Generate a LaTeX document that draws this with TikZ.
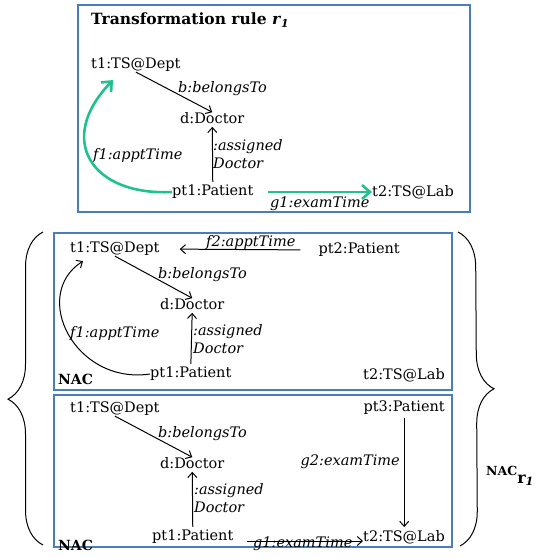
\documentclass[tikz,border=0pt]{standalone}
\usepackage{fontspec}
\setmainfont{DejaVu Serif}
\usetikzlibrary{arrows.meta,decorations.pathreplacing}
\definecolor{boxblue}{RGB}{74,126,187}
\definecolor{rulegreen}{RGB}{32,192,143}

\begin{document}
\begin{tikzpicture}[x=1pt,y=-1pt,
    obj/.style={inner sep=0pt,anchor=west,font=\fontsize{14.5}{16}\selectfont},
    lab/.style={inner sep=0pt,anchor=west,align=left,font=\fontsize{14.5}{18}\selectfont\itshape},
    nac/.style={inner sep=0pt,anchor=west,font=\fontsize{14}{16}\selectfont\bfseries},
    edge/.style={line width=1pt,-{Straight Barb[length=5pt,width=9pt]}},
    gedge/.style={line width=2.6pt,rulegreen,-{Straight Barb[length=8pt,width=14pt]}},
    frame/.style={boxblue,line width=1.2pt}]

    \useasboundingbox (0,0) rectangle (542,558);

    %RULE
    \draw[frame] (78,5) rectangle (470,212);
    \node[inner sep=0pt,anchor=west,font=\fontsize{15.5}{17}\selectfont\bfseries] (title) at (91,20)
        {Transformation rule \textit{r}\textsubscript{\textit{1}}};
    \node[obj] (r-t1) at (91,65) {t1:TS@Dept};
    \node[obj] (r-d) at (180,118) {d:Doctor};
    \node[obj] (r-pt1) at (172,192) {pt1:Patient};
    \node[obj] (r-t2) at (372,192) {t2:TS@Lab};
    \node[lab] (r-b) at (178,89) {b:belongsTo};
    \node[lab] (r-as) at (213,154) {:assigned\\Doctor};
    \node[lab] (r-f1) at (93,155) {f1:apptTime};
    \node[lab] (r-g1) at (270,204) {g1:examTime};
    \draw[edge] (r-t1.south) -- (r-d.north);
    \draw[edge,shorten <=3pt,shorten >=3pt] (r-pt1.north) -- (r-d.south);
    \draw[gedge] (r-pt1.west) .. controls (92,196) and (55,140) .. ([shift={(22,8)}]r-t1.south west); % f1
    \draw[gedge,shorten <=14pt] (r-pt1.east) -- (r-t2.west); % g1

    %NAC 1
    \draw[frame] (54,233) rectangle (452,390);
    \node[obj] (n1-t1) at (70,249) {t1:TS@Dept};
    \node[obj,anchor=east] (n1-pt2) at (400,250) {pt2:Patient};
    \node[obj] (n1-d) at (160,304) {d:Doctor};
    \node[obj] (n1-pt1) at (150,374) {pt1:Patient};
    \node[obj,anchor=east] (n1-t2) at (445,375) {t2:TS@Lab};
    \node[lab] (n1-f2) at (206,242) {f2:apptTime};
    \node[lab] (n1-b) at (158,275) {b:belongsTo};
    \node[lab] (n1-as) at (193,339) {:assigned\\Doctor};
    \node[lab] (n1-f1) at (70,333) {f1:apptTime};
    \node[nac] (n1-nac) at (58,379) {NAC};
    \draw[edge,shorten <=18pt,shorten >=20pt] (n1-pt2.west) -- (n1-t1.east); % f2
    \draw[edge] (n1-t1.south) -- (n1-d.north);
    \draw[edge,shorten <=3pt,shorten >=3pt] (n1-pt1.north) -- (n1-d.south);
    \draw[edge] (n1-pt1.west) .. controls (75,385) and (30,295) .. ([shift={(13,5)}]n1-t1.south west); % f1

    %NAC 2
    \draw[frame] (54,395) rectangle (452,547);
    \node[obj] (n2-t1) at (70,409) {t1:TS@Dept};
    \node[obj,anchor=east] (n2-pt3) at (445,408) {pt3:Patient};
    \node[obj] (n2-d) at (160,463) {d:Doctor};
    \node[obj] (n2-pt1) at (152,537) {pt1:Patient};
    \node[obj,anchor=east] (n2-t2) at (445,537) {t2:TS@Lab};
    \node[lab] (n2-b) at (158,434) {b:belongsTo};
    \node[lab] (n2-as) at (194,498) {:assigned\\Doctor};
    \node[lab,anchor=east] (n2-g2) at (400,462) {g2:examTime};
    \node[lab] (n2-g1) at (253,544) {g1:examTime};
    \node[nac] (n2-nac) at (58,545) {NAC};
    \draw[edge] (n2-t1.south) -- (n2-d.north);
    \draw[edge,shorten <=3pt,shorten >=3pt] (n2-pt1.north) -- (n2-d.south);
    \draw[edge,shorten <=3pt,shorten >=3pt] (n2-pt3.south) -- (n2-pt3.south |- n2-t2.north); % g2
    \draw[edge,shorten <=13pt] ([yshift=-4pt]n2-pt1.east) -- ([yshift=-4pt]n2-t2.west); % g1

    %BRACES
    \draw[line width=1pt,decorate,decoration={brace,amplitude=35pt,aspect=0.466}] (43,545) -- (43,232);
    \draw[line width=1pt,decorate,decoration={brace,amplitude=35pt,aspect=0.5}] (458,232) -- (460,546);
    \node[nac,font=\fontsize{12.5}{14}\selectfont\bfseries] (nacr) at (486,476)
        {NAC\raisebox{-8pt}{\fontsize{16}{16}\selectfont r\textsubscript{\textit{1}}}};
\end{tikzpicture}
\end{document}
